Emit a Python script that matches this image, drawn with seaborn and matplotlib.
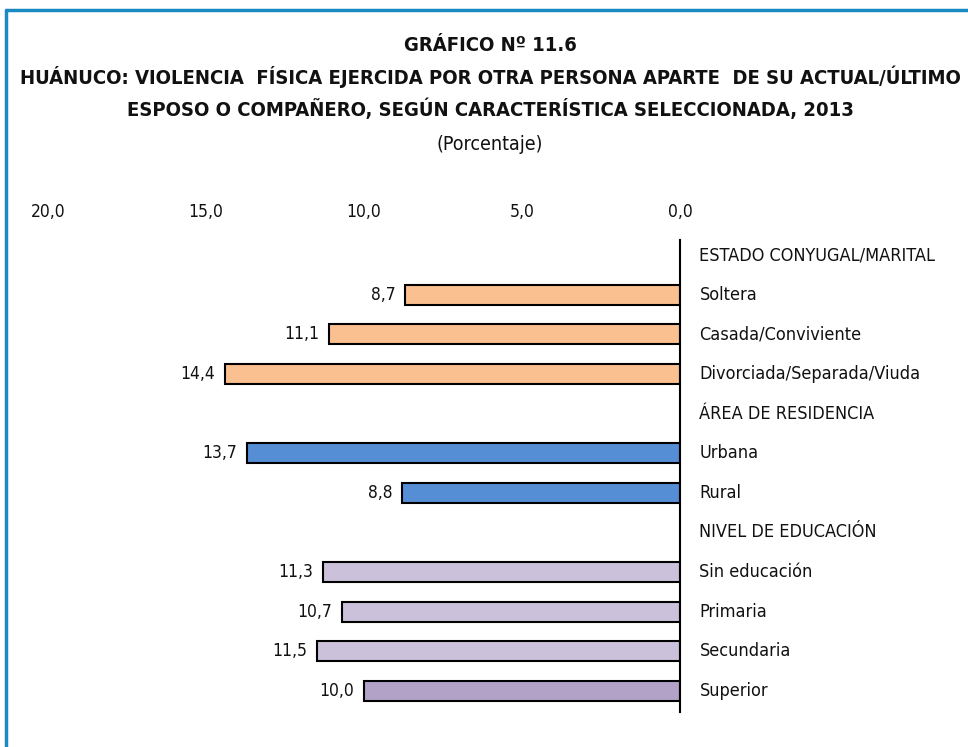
import matplotlib
matplotlib.use("Agg")
import matplotlib.pyplot as plt
import matplotlib.transforms as mtransforms
from matplotlib.lines import Line2D
import seaborn as sns
import pandas as pd

# ---- datos ----
filas = ["ESTADO CONYUGAL/MARITAL", "Soltera", "Casada/Conviviente",
         "Divorciada/Separada/Viuda", "ÁREA DE RESIDENCIA", "Urbana", "Rural",
         "NIVEL DE EDUCACIÓN", "Sin educación", "Primaria", "Secundaria", "Superior"]
categorias = ["Soltera", "Casada/Conviviente", "Divorciada/Separada/Viuda",
              "Urbana", "Rural", "Sin educación", "Primaria", "Secundaria", "Superior"]
valores = [8.7, 11.1, 14.4, 13.7, 8.8, 11.3, 10.7, 11.5, 10.0]
colores = ["#FAC090", "#FAC090", "#FAC090", "#558ED5", "#558ED5",
           "#CCC1DA", "#CCC1DA", "#CCC1DA", "#B3A2C7"]
ticks = [20, 15, 10, 5, 0]
tick_labels = ["20,0", "15,0", "10,0", "5,0", "0,0"]

titulo = ("GRÁFICO Nº 11.6\n"
          "HUÁNUCO: VIOLENCIA  FÍSICA EJERCIDA POR OTRA PERSONA APARTE  DE SU ACTUAL/ÚLTIMO\n"
          "ESPOSO O COMPAÑERO, SEGÚN CARACTERÍSTICA SELECCIONADA, 2013")
subtitulo = "(Porcentaje)"

df = pd.DataFrame({"cat": categorias, "valor": valores})

sns.set_theme(style="white")
plt.rcParams["font.family"] = ["DejaVu Sans"]
plt.rcParams["font.stretch"] = "condensed"
plt.rcParams["text.color"] = "#111111"

W, H = 968, 747
fig = plt.figure(figsize=(W / 100, H / 100), dpi=100)
ax = fig.add_axes([48 / W, 35 / H, 632 / W, 472 / H])

sns.barplot(data=df, x="valor", y="cat", hue="cat", order=filas,
            palette=dict(zip(categorias, colores)), orient="h", saturation=1,
            edgecolor="black", linewidth=1.5, width=0.5, legend=False, ax=ax)

ax.set_xlim(20, 0)
ax.set_ylim(11.53, -0.38)

for cont in ax.containers:
    ax.bar_label(cont, labels=[f"{v:.1f}".replace(".", ",") for v in cont.datavalues],
                 padding=7, fontsize=12.5, color="#111111")

ax.set_xticks(ticks)
ax.set_xticklabels(tick_labels, fontsize=12.5, color="#111111")
ax.xaxis.tick_top()
ax.tick_params(axis="x", length=0, pad=14)
ax.set_xlabel("")
ax.set_ylabel("")
ax.yaxis.tick_right()
ax.set_yticks(range(len(filas)))
ax.set_yticklabels(filas, fontsize=13, color="#111111")
ax.tick_params(axis="y", length=0, pad=14)
subir = mtransforms.ScaledTranslation(0, 2 / 100, fig.dpi_scale_trans)
for lbl in ax.get_yticklabels():
    lbl.set_transform(lbl.get_transform() + subir)
for s in ["top", "bottom", "left"]:
    ax.spines[s].set_visible(False)
ax.spines["right"].set_color("black")
ax.spines["right"].set_linewidth(1.5)

fig.text(490 / W, 1 - 78 / H, titulo, ha="center", va="center", fontsize=14.5,
         fontweight="bold", linespacing=1.58)
fig.text(490 / W, 1 - 144 / H, subtitulo, ha="center", va="center", fontsize=14)

# marco azul
borde = "#1B8AC2"
fig.add_artist(Line2D([6 / W, 1], [1 - 10 / H, 1 - 10 / H], color=borde, lw=2.5))
fig.add_artist(Line2D([6 / W, 6 / W], [0, 1 - 10 / H], color=borde, lw=2.5))

fig.savefig("out.png", dpi=100)
